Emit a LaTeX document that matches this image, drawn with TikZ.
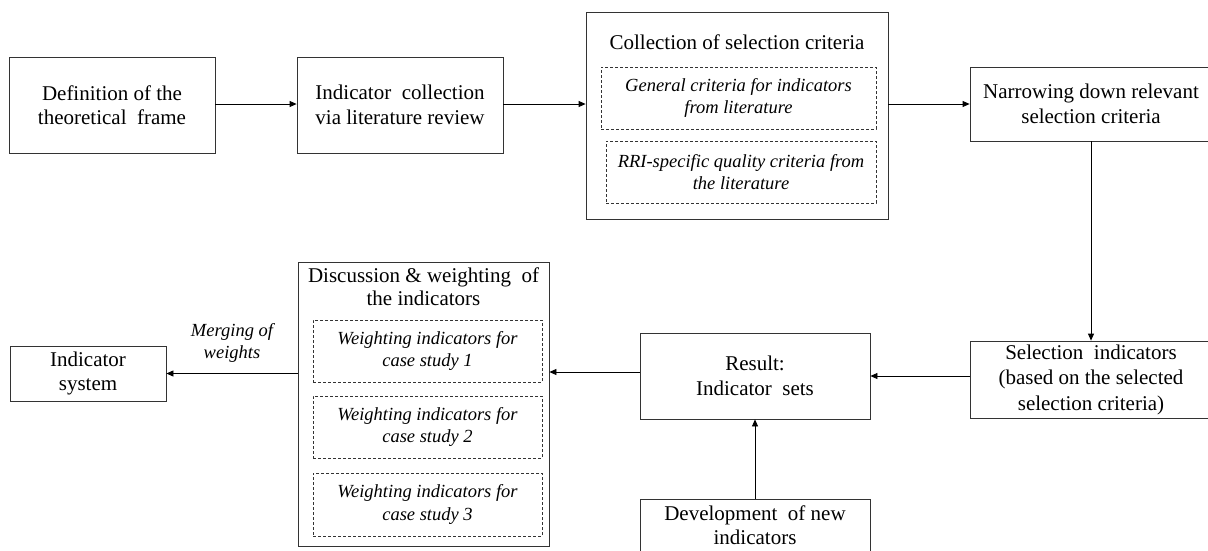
\documentclass[tikz,border=0pt]{standalone}
\usepackage{fontspec}
\setmainfont{Liberation Serif}
\usetikzlibrary{arrows.meta}
\begin{document}
\begin{tikzpicture}[x=1pt,y=-1pt,
  box/.style={draw=black!80,line width=0.8pt,rectangle,inner sep=0pt,align=center,
    font=\fontsize{21}{24.5}\selectfont},
  dbox/.style={draw=black!80,line width=0.6pt,dash pattern=on 3pt off 2pt,rectangle,inner sep=0pt,
    align=center,font=\fontsize{18.5}{22.5}\selectfont\itshape},
  ttl/.style={inner sep=0pt,align=center,font=\fontsize{21}{23.5}\selectfont},
  lbl/.style={inner sep=0pt,align=center,font=\fontsize{18.5}{22}\selectfont\itshape},
  arr/.style={line width=0.8pt,-{Triangle[length=7pt,width=6pt]}}]
\useasboundingbox (0,0) rectangle (1208,550);
\clip (0,0) rectangle (1208,550);
\fill[white] (0,0) rectangle (1208,550);
% top row
\node[box,minimum width=206pt,minimum height=96pt] (b1) at (112,105) {Definition of the\\theoretical\ \ frame};
\node[box,minimum width=206pt,minimum height=96pt] (b2) at (400,105) {Indicator\ \ collection\\via literature review};
\node[box,minimum width=302pt,minimum height=207pt] (b3) at (737,115.5) {};
\node[ttl] (b3t) at (737,42) {Collection of selection criteria};
\node[dbox,minimum width=275pt,minimum height=62pt] (d1) at (738.5,98) {General criteria for indicators\\from literature};
\node[dbox,minimum width=270pt,minimum height=62pt] (d2) at (741,172) {RRI-specific quality criteria from\\the literature};
\node[box,minimum width=242pt,minimum height=74pt] (b4) at (1091,104) {Narrowing down relevant\\selection criteria};
% bottom row
\node[box,minimum width=242pt,minimum height=77pt,font=\fontsize{21}{25.5}\selectfont] (sel) at (1091,379.5) {Selection\ \ indicators\\(based on the selected\\selection criteria)};
\node[box,minimum width=230pt,minimum height=86pt] (res) at (755,376) {Result:\\Indicator\ \ sets};
\node[box,minimum width=230pt,minimum height=70pt,anchor=north] (dev) at (755,499) {};
\node[inner sep=0pt,align=center,font=\fontsize{21}{23.5}\selectfont] (devt) at (755,525) {Development\ \ of new\\indicators};
\node[box,minimum width=251pt,minimum height=284pt] (disc) at (423.5,404) {};
\node[ttl] (disct) at (423.5,286.5) {Discussion \& weighting\ \ of\\the indicators};
\node[dbox,minimum width=229pt,minimum height=62pt] (w1) at (427.5,351) {Weighting indicators for\\case study 1};
\node[dbox,minimum width=229pt,minimum height=62pt] (w2) at (427.5,427) {Weighting indicators for\\case study 2};
\node[dbox,minimum width=229pt,minimum height=63pt] (w3) at (427.5,504.5) {Weighting indicators for\\case study 3};
\node[box,minimum width=156pt,minimum height=55pt] (sys) at (88,373.5) {Indicator\\system};
\node[lbl] (mw) at (232,343) {Merging of\\weights};
% connectors
\draw[arr] (b1.east |- 0,104) coordinate (c1) -- (c1 -| b2.west);
\draw[arr] (b2.east |- 0,104) coordinate (c2) -- (c2 -| b3.west);
\draw[arr] (b3.east |- b4.west) -- (b4.west);
\draw[arr] (b4.south) -- (sel.north);
\draw[arr] (sel.west |- res.east) -- (res.east);
\draw[arr] (res.west |- 0,372) coordinate (c3) -- (c3 -| disc.east);
\draw[arr] (dev.north) -- (res.south);
\draw[arr] (disc.west |- sys.east) -- (sys.east);
\end{tikzpicture}
\end{document}
